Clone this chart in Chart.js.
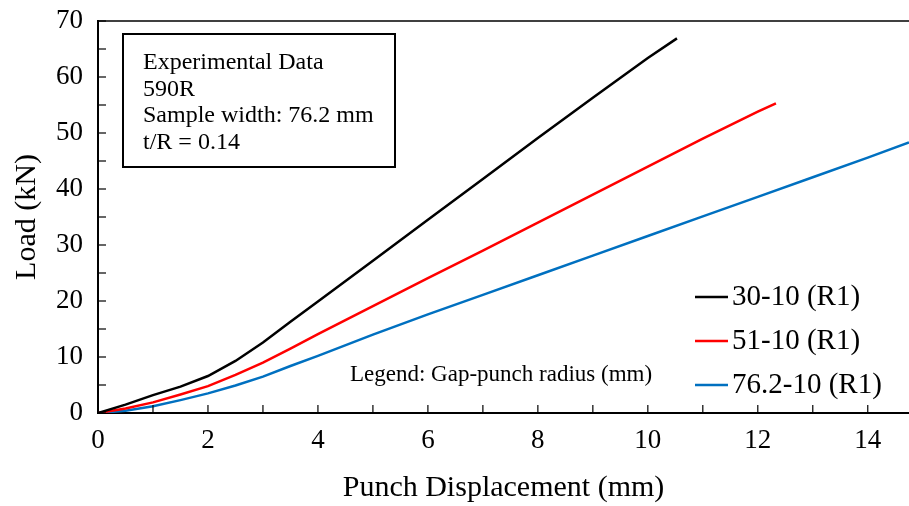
<!DOCTYPE html>
<html>
<head>
<meta charset="utf-8">
<script src="https://cdn.jsdelivr.net/npm/chart.js@4.4.0/dist/chart.umd.min.js"></script>
<style>
  html, body { margin: 0; padding: 0; background: #fff; }
  canvas { display: block; }
</style>
</head>
<body>
<canvas id="myChart" width="909" height="506"></canvas>
<script>
// series (x = punch displacement mm, y = load kN)
var blackX = [0, 0.5, 1, 1.5, 2, 2.5, 3, 3.5, 4, 5, 6, 7, 8, 9, 10, 10.53];
var blackY = [0, 1.5, 3.2, 4.7, 6.6, 9.3, 12.6, 16.3, 19.9, 27.2, 34.5, 41.8, 49.1, 56.3, 63.4, 66.9];

var redX = [0, 0.5, 1, 1.5, 2, 2.5, 3, 3.5, 4, 5, 6, 7, 8, 9, 10, 11, 12, 12.33];
var redY = [0, 0.8, 1.9, 3.3, 4.8, 6.8, 9.0, 11.5, 14.1, 19.1, 24.1, 29.0, 34.0, 39.0, 44.0, 49.0, 53.8, 55.3];

var blueX = [0, 0.5, 1, 1.5, 2, 2.5, 3, 3.5, 4, 5, 6, 7, 8, 9, 10, 11, 12, 13, 14, 14.75];
var blueY = [0, 0.4, 1.2, 2.3, 3.5, 4.9, 6.5, 8.4, 10.2, 14.0, 17.6, 21.1, 24.6, 28.1, 31.6, 35.1, 38.6, 42.1, 45.6, 48.3];

var seriesNames = ["30-10 (R1)", "51-10 (R1)", "76.2-10 (R1)"];
var seriesColors = ["#000000", "#ff0000", "#0070c0"];

var xTicks = [0, 2, 4, 6, 8, 10, 12, 14];
var yTicks = [0, 10, 20, 30, 40, 50, 60, 70];
var xMinor = [1, 3, 5, 7, 9, 11, 13];
var yMinor = [5, 15, 25, 35, 45, 55, 65];

var infoLines = ["Experimental Data", "590R", "Sample width: 76.2 mm", "t/R = 0.14"];
var legendNote = "Legend: Gap-punch radius (mm)";

function pts(xs, ys) {
  return xs.map(function (x, i) { return { x: x, y: ys[i] }; });
}

var serif = "'Liberation Serif', 'Times New Roman', serif";

var extras = {
  id: "extras",
  afterDraw: function (chart) {
    var ctx = chart.ctx;
    var xs = chart.scales.x, ys = chart.scales.y;
    var a = chart.chartArea;
    ctx.save();
    ctx.strokeStyle = "#000";
    ctx.lineWidth = 1.5;
    // top frame line
    ctx.beginPath();
    ctx.moveTo(a.left, a.top);
    ctx.lineTo(a.right, a.top);
    ctx.stroke();
    // inward ticks
    ctx.lineWidth = 1.2;
    xTicks.concat(xMinor).forEach(function (v) {
      var p = xs.getPixelForValue(v);
      ctx.beginPath();
      ctx.moveTo(p, a.bottom);
      ctx.lineTo(p, a.bottom - 8);
      ctx.stroke();
    });
    yTicks.concat(yMinor).forEach(function (v) {
      var p = ys.getPixelForValue(v);
      ctx.beginPath();
      ctx.moveTo(a.left, p);
      ctx.lineTo(a.left + 8, p);
      ctx.stroke();
    });

    // info box
    ctx.lineWidth = 2;
    ctx.strokeRect(a.left + 25, a.top + 13, 272, 133);
    ctx.fillStyle = "#000";
    ctx.font = "24px " + serif;
    ctx.textBaseline = "middle";
    ctx.textAlign = "left";
    infoLines.forEach(function (t, i) {
      ctx.fillText(t, a.left + 45, a.top + 42 + i * 26.5);
    });

    // legend
    ctx.font = "29px " + serif;
    chart.data.datasets.forEach(function (ds, i) {
      var y = a.top + 276 + i * 44;
      ctx.strokeStyle = ds.borderColor;
      ctx.lineWidth = 2.5;
      ctx.beginPath();
      ctx.moveTo(a.left + 597, y);
      ctx.lineTo(a.left + 630, y);
      ctx.stroke();
      ctx.fillStyle = "#000";
      ctx.fillText(ds.label, a.left + 634, y);
    });
    ctx.font = "23px " + serif;
    ctx.fillText(legendNote, a.left + 252, a.top + 354);
    ctx.restore();
  }
};

var ctx = document.getElementById("myChart").getContext("2d");
new Chart(ctx, {
  type: "scatter",
  data: {
    datasets: [
      { label: seriesNames[0], data: pts(blackX, blackY), borderColor: seriesColors[0] },
      { label: seriesNames[1], data: pts(redX, redY), borderColor: seriesColors[1] },
      { label: seriesNames[2], data: pts(blueX, blueY), borderColor: seriesColors[2] },
    ].map(function (d) {
      d.showLine = true;
      d.pointRadius = 0;
      d.borderWidth = 2.5;
      d.tension = 0;
      d.fill = false;
      return d;
    }),
  },
  options: {
    responsive: false,
    animation: false,
    layout: { padding: { top: 21, right: 0, left: 0, bottom: 0 } },
    plugins: { legend: { display: false }, tooltip: { enabled: false } },
    scales: {
      x: {
        type: "linear",
        min: 0,
        max: 14.75,
        afterBuildTicks: function (s) { s.ticks = xTicks.map(function (v) { return { value: v }; }); },
        afterFit: function (s) { s.height = 93; s.paddingLeft = 0; s.paddingRight = 0; },
        grid: { display: true, drawOnChartArea: false, drawTicks: false },
        border: { color: "#000", width: 2 },
        ticks: { color: "#000", font: { family: serif, size: 27 }, padding: 12, maxRotation: 0 },
        title: {
          display: true,
          text: "Punch Displacement (mm)",
          color: "#000",
          font: { family: serif, size: 30 },
          padding: { top: 0, bottom: 0 },
        },
      },
      y: {
        type: "linear",
        min: 0,
        max: 70,
        afterBuildTicks: function (s) { s.ticks = yTicks.map(function (v) { return { value: v }; }); },
        afterFit: function (s) { s.width = 98; s.paddingTop = 0; s.paddingBottom = 0; },
        grid: { display: true, drawOnChartArea: false, drawTicks: false },
        border: { color: "#000", width: 2 },
        ticks: { color: "#000", font: { family: serif, size: 27 }, padding: 15 },
        title: {
          display: true,
          text: "Load (kN)",
          color: "#000",
          font: { family: serif, size: 30 },
          padding: { top: 9, bottom: 0 },
        },
      },
    },
  },
  plugins: [extras],
});
</script>
</body>
</html>
